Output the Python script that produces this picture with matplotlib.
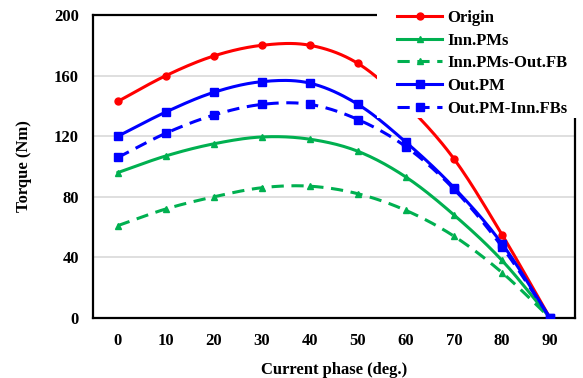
import numpy as np
import matplotlib
matplotlib.use('Agg')
import matplotlib.pyplot as plt
from matplotlib.patches import Rectangle

# data
phase = [0, 10, 20, 30, 40, 50, 60, 70, 80, 90]
origin = [143, 160, 173, 180, 180, 168, 141, 105, 55, 0]
inn_pms = [96, 107, 115, 119.5, 118, 110, 93, 68, 38, 0]
inn_pms_out_fb = [61, 72, 80, 86, 87, 82, 71, 54, 30, 0]
out_pm = [120, 136, 149, 156, 155, 141, 116, 86, 49, 0]
out_pm_inn_fbs = [106, 122, 134, 141, 141, 131, 113, 85, 47, 0]


def smooth(x, y, n=20):
    # Catmull-Rom curve through the points (like Excel smoothed lines)
    x = np.asarray(x, float)
    y = np.asarray(y, float)
    px = np.concatenate([[2 * x[0] - x[1]], x, [2 * x[-1] - x[-2]]])
    py = np.concatenate([[2 * y[0] - y[1]], y, [2 * y[-1] - y[-2]]])
    t = np.linspace(0, 1, n, endpoint=False)
    xs, ys = [], []
    for i in range(1, len(px) - 2):
        for p, out in ((px, xs), (py, ys)):
            p0, p1, p2, p3 = p[i - 1], p[i], p[i + 1], p[i + 2]
            out.extend(0.5 * (2 * p1 + (-p0 + p2) * t
                              + (2 * p0 - 5 * p1 + 4 * p2 - p3) * t ** 2
                              + (-p0 + 3 * p1 - 3 * p2 + p3) * t ** 3))
    xs.append(x[-1])
    ys.append(y[-1])
    return np.array(xs), np.array(ys)


plt.rcParams['font.family'] = ['Liberation Serif', 'DejaVu Serif']
plt.rcParams['font.weight'] = 'bold'

W, H = 583, 378
fig = plt.figure(figsize=(W / 100, H / 100), dpi=100)
ax = fig.add_axes([93 / W, 1 - 318 / H, 482 / W, 303 / H])

series = [
    (origin, 'Origin', '#FF0000', '-', 'o', 5),
    (inn_pms, 'Inn.PMs', '#00B050', '-', '^', 5),
    (inn_pms_out_fb, 'Inn.PMs-Out.FB', '#00B050', (0, (4, 2.5)), '^', 5),
    (out_pm, 'Out.PM', '#0000FF', '-', 's', 5.5),
    (out_pm_inn_fbs, 'Out.PM-Inn.FBs', '#0000FF', (0, (4, 2.5)), 's', 5.5),
]

handles = []
for y, label, color, ls, marker, ms in series:
    sx, sy = smooth(phase, y)
    ax.plot(sx, sy, color=color, ls=ls, lw=2.2, zorder=3)
    ax.plot(phase, y, color=color, ls='none', marker=marker, ms=ms, zorder=4)
    h, = ax.plot([], [], color=color, ls=ls, lw=2.2, marker=marker, ms=ms, label=label)
    handles.append(h)

ax.set_xlim(-5.2, 95.2)
ax.set_ylim(0, 200)
ax.set_xticks(phase)
ax.set_yticks(np.arange(0, 201, 40))
ax.tick_params(length=0, labelsize=12)
ax.tick_params(axis='x', pad=11)
ax.tick_params(axis='y', pad=10)
for lab in ax.get_xticklabels() + ax.get_yticklabels():
    lab.set_fontweight('bold')
ax.grid(axis='y', color='#D9D9D9', lw=1.2, zorder=0)
for s in ax.spines.values():
    s.set_linewidth(1.6)

ax.set_xlabel('Current phase (deg.)', fontsize=12, fontweight='bold', labelpad=9)
ax.set_ylabel('Torque (Nm)', fontsize=12, fontweight='bold', labelpad=16)

# white block behind the legend, covering the top-right corner of the frame
fig.patches.append(Rectangle((377 / W, 1 - 118 / H), 1, 1, transform=fig.transFigure,
                             facecolor='white', edgecolor='none', zorder=2))

leg = fig.legend(handles=handles, loc='upper left',
                 bbox_to_anchor=(397 / W, 1 - 10 / H), frameon=False,
                 fontsize=12, handlelength=2.7, handletextpad=0.3, labelspacing=0.4,
                 borderpad=0, borderaxespad=0)
for t in leg.get_texts():
    t.set_fontweight('bold')
leg.set_zorder(10)

fig.savefig('out.png', dpi=100)
